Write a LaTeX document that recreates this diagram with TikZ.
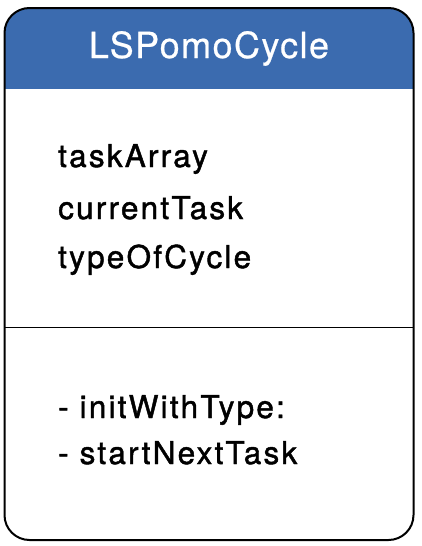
\documentclass[tikz,border=0pt]{standalone}
\usepackage{fontspec}
\setmainfont{TeX Gyre Heros}
\newfontfamily\titlefont[LetterSpace=4,FakeBold=0.6]{TeX Gyre Heros}
\newfontfamily\memberfont[LetterSpace=7,FakeBold=1.4]{TeX Gyre Heros}
\definecolor{headblue}{RGB}{59,107,175}
\begin{document}
\begin{tikzpicture}[x=1pt,y=-1pt]
	\useasboundingbox (0,0) rectangle (422,546);
	% class frame corners and divider
	\coordinate (nw) at (4.5,8);
	\coordinate (se) at (413.5,540);
	\coordinate (dl) at (4.5,327.5);
	\coordinate (dr) at (413.5,327.5);
	\begin{scope}
		\clip (0,0) rectangle (422,88);
		\fill[headblue, rounded corners=25] (nw) rectangle (se);
	\end{scope}
	\draw[line width=2pt, rounded corners=25] (nw) rectangle (se);
	\draw[line width=1.8pt] (dl) -- (dr);
	\node[anchor=base, text=white, font=\titlefont\fontsize{36}{42}\selectfont] (title) at (209,58) {LSPomoCycle};
	\begin{scope}[every node/.style={anchor=base west, inner sep=0pt, font=\memberfont\fontsize{31.5}{36}\selectfont}]
		\node (taskArray) at (58,167) {taskArray};
		\node (currentTask) at (58,219) {currentTask};
		\node (typeOfCycle) at (58,268) {typeOfCycle};
		\node (initWithType) at (58,418) {- initWithType:};
		\node (startNextTask) at (58,464) {- startNextTask};
	\end{scope}
\end{tikzpicture}
\end{document}
